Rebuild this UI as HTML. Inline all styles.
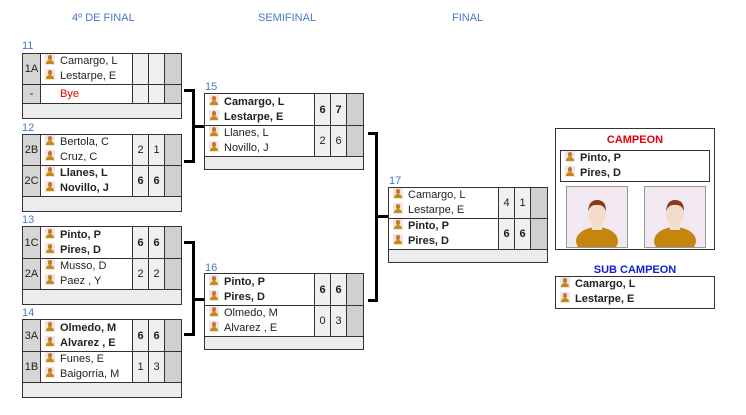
<!DOCTYPE html>
<html><head><meta charset="utf-8"><style>
body{margin:0;width:746px;height:415px;background:#fff;font-family:"Liberation Sans",sans-serif;font-size:11px;color:#222;position:relative;overflow:hidden}
.h{position:absolute;top:12px;color:#4a78c8;font-size:11px}
.lb{position:absolute;color:#4a78c8;font-size:11px}
.m{position:absolute;width:158px;border:1px solid #333;background:#fff}
.r{display:flex;border-bottom:1px solid #333}
.sd{width:17px;background:#d6d6d6;border-right:1px solid #333;display:flex;align-items:center;justify-content:center;font-size:11px}
.nm{flex:1;padding-left:4px;display:flex;flex-direction:column;justify-content:center}
.nm div{height:15px;line-height:15px;white-space:nowrap}
.sc{width:15px;border-left:1px solid #333;background:#f0f0f0;display:flex;align-items:center;justify-content:center}
.ls{width:16px;border-left:1px solid #333;background:#d0d0d0}
.f{height:14px;background:#ececec}
.b{font-weight:bold}
.ic{display:inline-block;width:10px;height:11px;position:relative;vertical-align:-1px;margin-right:5px;background:#f3e4e4}
.ic::before{content:"";position:absolute;left:3px;top:1px;width:4px;height:5px;border-radius:2px;background:#c47a30}
.ic::after{content:"";position:absolute;left:1px;top:6px;width:8px;height:4px;border-radius:4px 4px 0 0;background:#c68a10}
.ln{position:absolute;background:#000}
.big{position:absolute;width:60px;height:60px;border:1px solid #999;background:#f1e8f2;overflow:hidden}
</style></head><body>
<div class="h" style="left:72px">4º DE FINAL</div>
<div class="h" style="left:258px">SEMIFINAL</div>
<div class="h" style="left:452px">FINAL</div>

<div class="lb" style="left:22px;top:40px">11</div>
<div class="m" style="left:22px;top:53px">
<div class="r" style="height:30px"><div class="sd">1A</div><div class="nm"><div><span class="ic"></span>Camargo, L</div><div><span class="ic"></span>Lestarpe, E</div></div><div class="sc"></div><div class="sc"></div><div class="ls"></div></div>
<div class="r" style="height:18px"><div class="sd">-</div><div class="nm"><div style="color:#d00"><span style="display:inline-block;width:15px"></span>Bye</div></div><div class="sc"></div><div class="sc"></div><div class="ls"></div></div>
<div class="f"></div></div>

<div class="lb" style="left:22px;top:122px">12</div>
<div class="m" style="left:22px;top:134px">
<div class="r" style="height:30px"><div class="sd">2B</div><div class="nm"><div><span class="ic"></span>Bertola, C</div><div><span class="ic"></span>Cruz, C</div></div><div class="sc">2</div><div class="sc">1</div><div class="ls"></div></div>
<div class="r b" style="height:30px"><div class="sd" style="font-weight:normal">2C</div><div class="nm"><div><span class="ic"></span>Llanes, L</div><div><span class="ic"></span>Novillo, J</div></div><div class="sc">6</div><div class="sc">6</div><div class="ls"></div></div>
<div class="f"></div></div>

<div class="lb" style="left:22px;top:214px">13</div>
<div class="m" style="left:22px;top:226px">
<div class="r b" style="height:31px"><div class="sd" style="font-weight:normal">1C</div><div class="nm"><div><span class="ic"></span>Pinto, P</div><div><span class="ic"></span>Pires, D</div></div><div class="sc">6</div><div class="sc">6</div><div class="ls"></div></div>
<div class="r" style="height:30px"><div class="sd">2A</div><div class="nm"><div><span class="ic"></span>Musso, D</div><div><span class="ic"></span>Paez , Y</div></div><div class="sc">2</div><div class="sc">2</div><div class="ls"></div></div>
<div class="f"></div></div>

<div class="lb" style="left:22px;top:307px">14</div>
<div class="m" style="left:22px;top:319px">
<div class="r b" style="height:31px"><div class="sd" style="font-weight:normal">3A</div><div class="nm"><div><span class="ic"></span>Olmedo, M</div><div><span class="ic"></span>Alvarez , E</div></div><div class="sc">6</div><div class="sc">6</div><div class="ls"></div></div>
<div class="r" style="height:30px"><div class="sd">1B</div><div class="nm"><div><span class="ic"></span>Funes, E</div><div><span class="ic"></span>Baigorria, M</div></div><div class="sc">1</div><div class="sc">3</div><div class="ls"></div></div>
<div class="f"></div></div>

<div class="lb" style="left:205px;top:81px">15</div>
<div class="m" style="left:204px;top:93px">
<div class="r b" style="height:31px"><div class="nm"><div><span class="ic"></span>Camargo, L</div><div><span class="ic"></span>Lestarpe, E</div></div><div class="sc">6</div><div class="sc">7</div><div class="ls"></div></div>
<div class="r" style="height:30px"><div class="nm"><div><span class="ic"></span>Llanes, L</div><div><span class="ic"></span>Novillo, J</div></div><div class="sc">2</div><div class="sc">6</div><div class="ls"></div></div>
<div class="f" style="height:12px"></div></div>

<div class="lb" style="left:205px;top:262px">16</div>
<div class="m" style="left:204px;top:273px">
<div class="r b" style="height:31px"><div class="nm"><div><span class="ic"></span>Pinto, P</div><div><span class="ic"></span>Pires, D</div></div><div class="sc">6</div><div class="sc">6</div><div class="ls"></div></div>
<div class="r" style="height:30px"><div class="nm"><div><span class="ic"></span>Olmedo, M</div><div><span class="ic"></span>Alvarez , E</div></div><div class="sc">0</div><div class="sc">3</div><div class="ls"></div></div>
<div class="f" style="height:12px"></div></div>

<div class="lb" style="left:389px;top:175px">17</div>
<div class="m" style="left:388px;top:187px">
<div class="r" style="height:30px"><div class="nm"><div><span class="ic"></span>Camargo, L</div><div><span class="ic"></span>Lestarpe, E</div></div><div class="sc">4</div><div class="sc">1</div><div class="ls"></div></div>
<div class="r b" style="height:30px"><div class="nm"><div><span class="ic"></span>Pinto, P</div><div><span class="ic"></span>Pires, D</div></div><div class="sc">6</div><div class="sc">6</div><div class="ls"></div></div>
<div class="f" style="height:12px"></div></div>

<!-- connectors -->
<div class="ln" style="left:184px;top:89px;width:11px;height:3px"></div>
<div class="ln" style="left:192px;top:89px;width:3px;height:74px"></div>
<div class="ln" style="left:184px;top:160px;width:11px;height:3px"></div>
<div class="ln" style="left:192px;top:125px;width:12px;height:3px"></div>

<div class="ln" style="left:184px;top:241px;width:11px;height:3px"></div>
<div class="ln" style="left:192px;top:241px;width:3px;height:95px"></div>
<div class="ln" style="left:184px;top:333px;width:11px;height:3px"></div>
<div class="ln" style="left:192px;top:298px;width:12px;height:3px"></div>

<div class="ln" style="left:368px;top:132px;width:10px;height:3px"></div>
<div class="ln" style="left:375px;top:132px;width:3px;height:170px"></div>
<div class="ln" style="left:368px;top:299px;width:10px;height:3px"></div>
<div class="ln" style="left:375px;top:215px;width:13px;height:3px"></div>

<!-- champion -->
<div style="position:absolute;left:555px;top:128px;width:158px;height:120px;border:1px solid #333">
<div style="position:absolute;top:5px;width:100%;text-align:center;color:#e00010;font-weight:bold;font-size:11px">CAMPEON</div>
<div style="position:absolute;left:4px;top:21px;width:148px;height:30px;border:1px solid #333" class="b"><div style="padding:0 0 0 4px"><div style="height:15px;line-height:15px"><span class="ic"></span>Pinto, P</div><div style="height:15px;line-height:15px"><span class="ic"></span>Pires, D</div></div></div>
<div class="big" style="left:10px;top:57px"><svg width="60" height="60"><ellipse cx="30" cy="54" rx="21" ry="14" fill="#c6860e"/><rect x="25" y="35" width="10" height="8" fill="#f0e0d0"/><ellipse cx="30" cy="27" rx="9" ry="12" fill="#f4dccb"/><path d="M21 24 Q22 13 30 13 Q39 13 39 24 Q36 17 30 18 Q24 17 21 24Z" fill="#8a3a1a"/></svg></div>
<div class="big" style="left:88px;top:57px"><svg width="60" height="60"><ellipse cx="30" cy="54" rx="21" ry="14" fill="#c6860e"/><rect x="25" y="35" width="10" height="8" fill="#f0e0d0"/><ellipse cx="30" cy="27" rx="9" ry="12" fill="#f4dccb"/><path d="M21 24 Q22 13 30 13 Q39 13 39 24 Q36 17 30 18 Q24 17 21 24Z" fill="#8a3a1a"/></svg></div>
</div>
<div style="position:absolute;left:555px;top:264px;width:160px;text-align:center;color:#1020d0;font-weight:bold">SUB CAMPEON</div>
<div class="b" style="position:absolute;left:555px;top:276px;width:158px;height:31px;border:1px solid #333"><div style="padding-left:4px"><div style="height:15px;line-height:15px"><span class="ic"></span>Camargo, L</div><div style="height:15px;line-height:15px"><span class="ic"></span>Lestarpe, E</div></div></div>
</body></html>
